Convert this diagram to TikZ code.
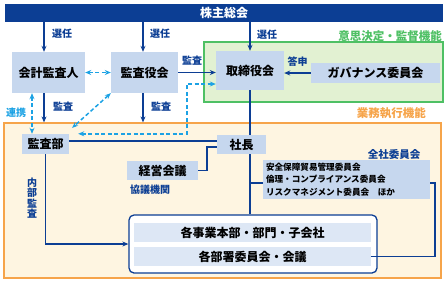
\documentclass[tikz,border=0pt]{standalone}
\usepackage{fontspec}
\setmainfont{Noto Sans CJK JP}
\usepackage{tikz}
\usetikzlibrary{arrows.meta,positioning}
\definecolor{darkblue}{RGB}{12,62,148}
\definecolor{boxblue}{RGB}{198,215,238}
\definecolor{rowblue}{RGB}{221,231,245}
\definecolor{linkcyan}{RGB}{28,162,228}
\definecolor{ctrlgreen}{RGB}{78,192,100}
\definecolor{ctrlfill}{RGB}{226,241,210}
\definecolor{execorange}{RGB}{246,164,74}
\definecolor{execfill}{RGB}{254,245,225}

\begin{document}
\begin{tikzpicture}[x=1pt,y=-1pt,
  body/.style ={fill=boxblue,inner sep=0pt,font=\fontsize{12}{14}\selectfont\bfseries},
  row/.style  ={fill=rowblue,inner sep=0pt,minimum width=237pt,minimum height=19pt,
                font=\fontsize{12}{14}\selectfont\bfseries},
  region/.style={inner sep=0pt,line width=1.2pt},
  lbl/.style  ={text=darkblue,inner sep=1pt,font=\fontsize{10}{12}\selectfont\bfseries},
  conn/.style ={-{Stealth[length=6pt,width=5pt]},line width=1.6pt,darkblue},
  tie/.style  ={line width=1.6pt,darkblue},
  link/.style ={{Stealth[length=6pt,width=5pt]}-{Stealth[length=6pt,width=5pt]},
                line width=1.5pt,linkcyan,dash pattern=on 4pt off 2.5pt},
]
\useasboundingbox (0,0) rectangle (446,282);

% regions
\node[region,draw=ctrlgreen,fill=ctrlfill,minimum width=239pt,minimum height=60pt]
  (ctrl) at (323.5,72) {};
\node[region,draw=execorange,fill=execfill,minimum width=437pt,minimum height=155pt]
  (exec) at (222.5,200.5) {};
\node[fill=darkblue,text=white,inner sep=0pt,minimum width=438pt,minimum height=18pt,
  font=\fontsize{12}{14}\selectfont\bfseries] (bar) at (224,13) {株主総会};

\node[anchor=east,text=ctrlgreen,inner sep=0pt,font=\fontsize{11.5}{13}\selectfont\bfseries]
  (ctrltxt) at (442,36) {意思決定・監督機能};
\node[anchor=east,text=execorange,inner sep=0pt,font=\fontsize{11.5}{13}\selectfont\bfseries]
  (exectxt) at (426,113) {業務執行機能};

% boxes
\node[body,minimum width=73pt,minimum height=41pt]  (kaikei)    at (48.5,72.5) {会計監査人};
\node[body,minimum width=67pt,minimum height=41pt]  (kansayaku) at (144.5,72.5) {監査役会};
\node[body,minimum width=68pt,minimum height=39pt]  (tori)      at (250,70.5) {取締役会};
\node[body,minimum width=129pt,minimum height=20pt] (gov)       at (375.5,73) {ガバナンス委員会};
\node[body,minimum width=47pt,minimum height=20pt]  (kansabu)   at (45.5,144) {監査部};
\node[body,minimum width=49pt,minimum height=19pt]  (shacho)    at (241.5,144.5) {社長};
\node[body,minimum width=71pt,minimum height=19pt]  (keiei)     at (162.5,170.5) {経営会議};
\node[fill=boxblue,minimum width=167pt,minimum height=39pt,text width=161pt,
  inner sep=3pt,align=left,font=\fontsize{8.6}{12.5}\selectfont\bfseries] (iinkai) at (346.5,179.5)
  {安全保障貿易管理委員会\\倫理・コンプライアンス委員会\\リスクマネジメント委員会　ほか};
\node[draw=darkblue,line width=1.3pt,rounded corners=5pt,fill=white,inner sep=0pt,
  minimum width=248pt,minimum height=58pt] (group) at (253,244) {};
\node[row] (row1) at (252.5,232.5) {各事業本部・部門・子会社};
\node[row] (row2) at (252.5,256.5) {各部署委員会・会議};

% labels
\node[lbl] (sen1) at (62,34)  {選任};
\node[lbl] (sen2) at (160,34) {選任};
\node[lbl] (sen3) at (267,35) {選任};
\node[lbl] (kan1) at (192,61) {監査};
\node[lbl] (toshin) at (297.5,62) {答申};
\node[lbl] (kan2) at (63,107) {監査};
\node[lbl] (kan3) at (161,107) {監査};
\node[lbl,text=linkcyan] (renkei) at (16,113) {連携};
\node[lbl,align=center,font=\fontsize{10}{10.5}\selectfont\bfseries] (naibu) at (32,198)
  {内\\部\\監\\査};
\node[lbl,anchor=west,inner sep=0pt] (kyogi) at (130,190) {協議機関};
\node[lbl,font=\fontsize{10.5}{12}\selectfont\bfseries] (zensha) at (394,154) {全社委員会};

% solid arrows
\draw[conn] ([xshift=-4.5pt]kaikei.north |- bar.south) -- ([xshift=-4.5pt]kaikei.north);
\draw[conn] ([xshift=-1.5pt]kansayaku.north |- bar.south) -- ([xshift=-1.5pt]kansayaku.north);
\draw[conn] (tori.north |- bar.south) -- (tori.north);
\draw[conn] (kansayaku.east) -- (kansayaku.east -| tori.west);
\draw[conn] (gov.west) -- (gov.west -| tori.east);
\draw[conn] ([xshift=-4.5pt]kaikei.south) -- ([xshift=-4.5pt]kaikei.south |- exec.north);
\draw[conn] ([xshift=-1.5pt]kansayaku.south) -- ([xshift=-1.5pt]kansayaku.south |- exec.north);
\draw[conn] (kansabu.south) |- (group.west);

% lines
\draw[tie] ([yshift=3pt]kansabu.east) -- ([yshift=3pt]kansabu.east -| shacho.west);
\draw[tie] (tori.south) -- (tori.south |- shacho.north);
\draw[tie] (tori.south |- shacho.south) -- (tori.south |- group.north);
\draw[tie] (keiei.east) -| ([xshift=-10pt,yshift=-2.5pt]shacho.west)
  -- ([yshift=-2.5pt]shacho.west);
\draw[tie] ([yshift=-3.5pt]tori.south |- iinkai.west) -- ([yshift=-3.5pt]iinkai.west);
\draw[tie] ([yshift=-3.5pt]iinkai.east) -| ([xshift=64pt]row2.east) -- (row2.east);

% dashed links
\coordinate (dturn) at (187,84);
\draw[link] (kaikei.east) -- (kansayaku.west);
\draw[link] ([xshift=-16.5pt]kaikei.south) -- ([xshift=-16.5pt]kaikei.south |- kansabu.north);
\draw[link] (kansayaku.south west) -- ([xshift=3pt,yshift=6pt]kansabu.north east);
\draw[link] ([xshift=9pt]kansabu.north east) -| (dturn) -- (dturn -| tori.west);
\end{tikzpicture}
\end{document}
